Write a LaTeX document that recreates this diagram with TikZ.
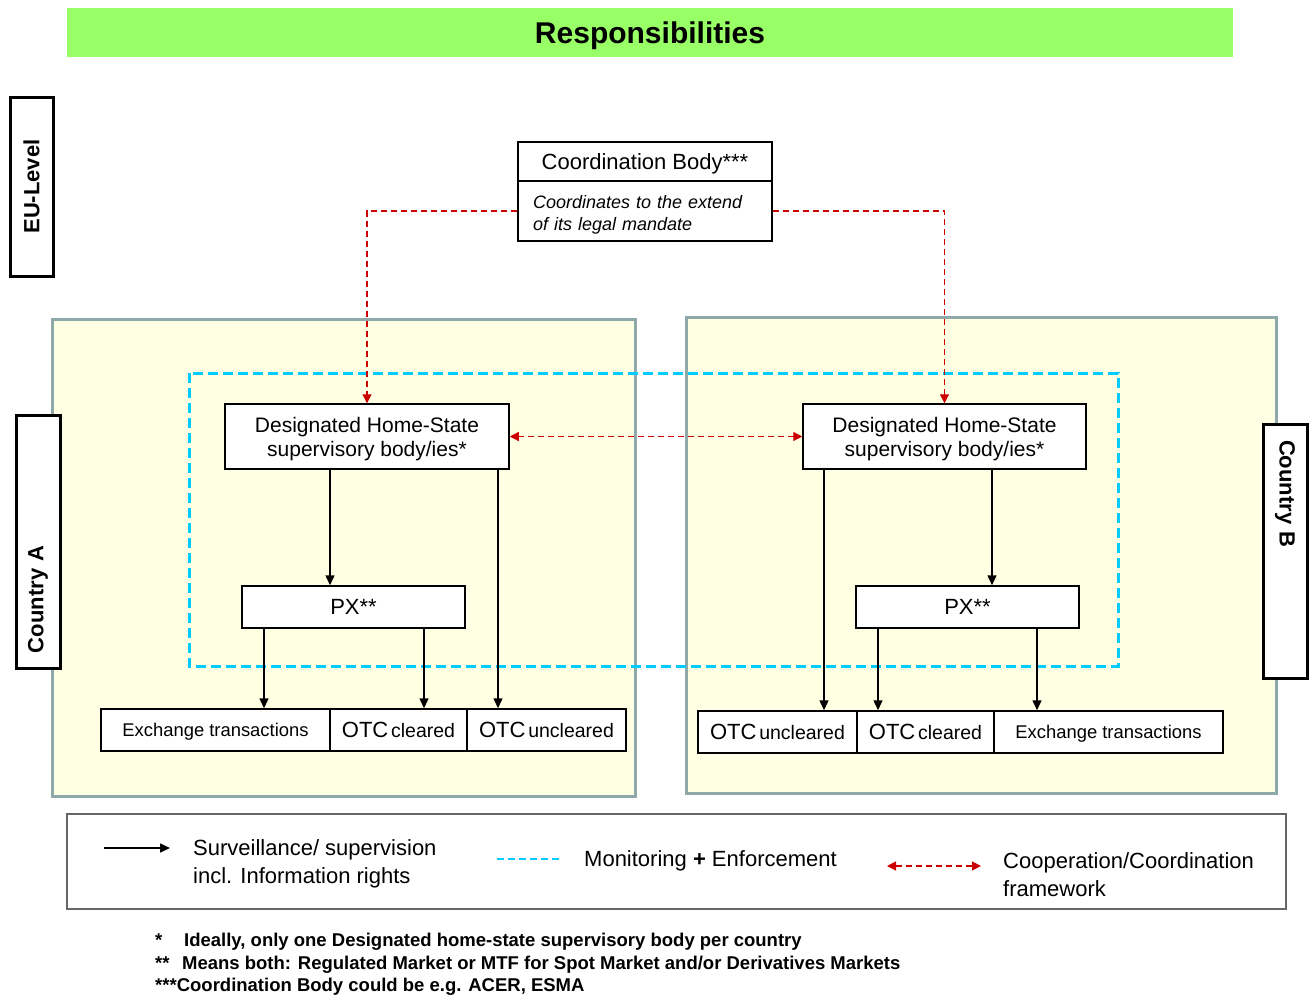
\documentclass[tikz,border=0pt]{standalone}
\usepackage{fontspec}
\setmainfont{Liberation Sans}
\usetikzlibrary{arrows.meta}

\definecolor{titlegreen}{RGB}{153,255,102}
\definecolor{panelfill}{RGB}{255,255,228}
\definecolor{panelline}{RGB}{143,168,170}
\definecolor{moncyan}{RGB}{0,204,255}
\definecolor{coopred}{RGB}{204,0,0}

\newcommand{\txtbig}{\fontsize{22}{28}\selectfont}
\newcommand{\txtmid}{\fontsize{18}{22}\selectfont}
\newcommand{\txtotc}{\fontsize{22}{26}\selectfont}
\newcommand{\txtsmall}{\fontsize{19.5}{24}\selectfont}

\begin{document}
\begin{tikzpicture}[x=1pt,y=-1pt,
  box/.style={draw,line width=1.5pt,fill=white,inner sep=0pt},
  flat/.style={text depth=0pt},
  lbl/.style={draw,line width=3pt,fill=white,font=\fontsize{22}{26}\selectfont\bfseries},
  panel/.style={draw=panelline,line width=3pt,fill=panelfill},
  sup/.style={line width=1.5pt,-{Triangle[length=10pt,width=9pt]}},
  coop/.style={coopred,line width=1.2pt,dash pattern=on 6pt off 4pt},
  redtip/.tip={Triangle[length=9pt,width=9pt]},
  mon/.style={moncyan,line width=3pt,dash pattern=on 10pt off 5pt}]
\useasboundingbox (0,0) rectangle (1314,996);

% title bar
\node[fill=titlegreen,minimum width=1166pt,minimum height=49pt,inner sep=0pt,flat,
  font=\fontsize{30}{36}\selectfont\bfseries] (title) at (650,32.5) {Responsibilities};

% country panels
\node[panel,minimum width=583pt,minimum height=477pt] (panelA) at (343.5,557.5) {};
\node[panel,minimum width=590pt,minimum height=476pt] (panelB) at (981,555) {};

% monitoring + enforcement frame
\draw[mon] (189,373) rectangle (1118,666);

% level labels
\node[lbl,rotate=90,minimum width=179pt,minimum height=43pt,inner sep=0pt] (eu) at (31.5,186.5) {EU-Level};
\node[lbl,rotate=90,minimum height=44pt,text width=223pt,inner xsep=15pt,inner ysep=0pt,align=left] (ctryA) at (38,541.5) {Country A};
\node[lbl,rotate=-90,minimum height=44pt,text width=222pt,inner xsep=16pt,inner ysep=0pt,align=left] (ctryB) at (1285,551) {Country B};

% coordination body
\node[box,flat,minimum width=254pt,minimum height=39pt,font=\txtbig] (coordtop) at (645,161.5) {Coordination Body***};
\node[box,minimum height=60pt,text width=224pt,inner xsep=15pt,align=left,font=\txtmid\itshape] (coordbot) at (645,211)
  {\rule{0pt}{21pt}Coordinates to the extend\\of its legal mandate};

% supervisory bodies
\node[box,flat,minimum width=284pt,minimum height=65pt,align=center,font=\fontsize{21}{24}\selectfont] (dhsA) at (367,436.5)
  {Designated Home-State\\supervisory body/ies*};
\node[box,flat,minimum width=283pt,minimum height=65pt,align=center,font=\fontsize{21}{24}\selectfont] (dhsB) at (944.5,436.5)
  {Designated Home-State\\supervisory body/ies*};

% exchanges
\node[box,flat,minimum width=223pt,minimum height=42pt,font=\txtbig] (pxA) at (353.5,607) {PX**};
\node[box,flat,minimum width=223pt,minimum height=42pt,font=\txtbig] (pxB) at (967.5,607) {PX**};

% transaction types, country A
\node[box,flat,minimum width=229pt,minimum height=42pt,font=\fontsize{18.4}{22}\selectfont] (exA) at (215.5,730) {Exchange transactions\hspace{8pt}};
\node[box,flat,minimum width=137pt,minimum height=42pt] (otccA) at (398.5,730) {{\txtotc OTC} {\txtsmall cleared}};
\node[box,flat,minimum width=159pt,minimum height=42pt] (otcuA) at (546.5,730) {{\txtotc OTC} {\txtsmall uncleared}};

% transaction types, country B
\node[box,flat,minimum width=159pt,minimum height=42pt] (otcuB) at (777.5,732) {{\txtotc OTC} {\txtsmall uncleared}};
\node[box,flat,minimum width=137pt,minimum height=42pt] (otccB) at (925.5,732) {{\txtotc OTC} {\txtsmall cleared}};
\node[box,flat,minimum width=229pt,minimum height=42pt,font=\fontsize{18.4}{22}\selectfont] (exB) at (1108.5,732) {Exchange transactions\hspace{8pt}};

% cooperation links
\draw[coop,-redtip] (coordbot.west) -| (dhsA.north);
\draw[coop,-redtip] (coordbot.east) -| (dhsB.north);
\draw[coop,redtip-redtip] (dhsA.east) -- (dhsB.west);

% supervision, country A
\draw[sup] ([xshift=-37pt]dhsA.south) coordinate (a1) -- (a1 |- pxA.north);
\draw[sup] ([xshift=131pt]dhsA.south) coordinate (a2) -- (a2 |- otcuA.north);
\draw[sup] ([xshift=-89.5pt]pxA.south) coordinate (a3) -- (a3 |- exA.north);
\draw[sup] ([xshift=70.5pt]pxA.south) coordinate (a4) -- (a4 |- otccA.north);

% supervision, country B
\draw[sup] ([xshift=47.5pt]dhsB.south) coordinate (b1) -- (b1 |- pxB.north);
\draw[sup] ([xshift=-120.5pt]dhsB.south) coordinate (b2) -- (b2 |- otcuB.north);
\draw[sup] ([xshift=-89.5pt]pxB.south) coordinate (b3) -- (b3 |- otccB.north);
\draw[sup] ([xshift=69.5pt]pxB.south) coordinate (b4) -- (b4 |- exB.north);

% legend
\node[draw=black!60,line width=1.5pt,minimum width=1219pt,minimum height=95pt] (legend) at (676.5,861.5) {};
\coordinate (supL) at (104,848);
\coordinate (supR) at (170,848);
\draw[sup] (supL) -- (supR);
\node[anchor=west,align=left,inner sep=0pt,font=\txtbig] (legsup) at (193,864)
  {Surveillance/ supervision\\incl. Information rights};
\coordinate (monL) at (497,859);
\coordinate (monR) at (560,859);
\draw[mon,line width=2.5pt,dash pattern=on 7pt off 4pt] (monL) -- (monR);
\node[anchor=west,inner sep=0pt,font=\txtbig] (legmon) at (584,861) {Monitoring \textbf{+} Enforcement};
\coordinate (coopL) at (887,866);
\coordinate (coopR) at (981,866);
\draw[coop,redtip-redtip] (coopL) -- (coopR);
\node[anchor=west,align=left,inner sep=0pt,font=\txtbig] (legcoop) at (1003,875)
  {Cooperation/Coordination\\framework};

% footnotes
\node[anchor=north west,align=left,inner sep=0pt,font=\fontsize{18.5}{22.5}\selectfont\bfseries] (notes) at (155,933)
  {\makebox[29pt][l]{*}Ideally, only one Designated home-state supervisory body per country\\
   \makebox[27pt][l]{**}Means both: Regulated Market or MTF for Spot Market and/or Derivatives Markets\\
   ***Coordination Body could be e.g. ACER, ESMA};
\end{tikzpicture}
\end{document}
